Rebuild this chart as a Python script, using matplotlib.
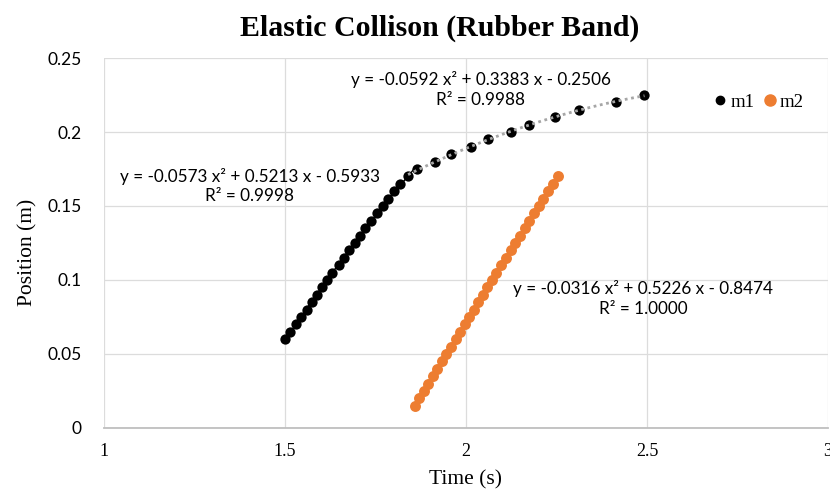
import numpy as np
import matplotlib
matplotlib.use("Agg")
import matplotlib.pyplot as plt
from matplotlib.lines import Line2D

# ---- data ----
m1_time = [1.500, 1.514, 1.530, 1.543, 1.560, 1.574, 1.588, 1.601, 1.617, 1.630,
           1.649, 1.662, 1.678, 1.692, 1.707, 1.722, 1.738, 1.753, 1.772, 1.785,
           1.801, 1.818, 1.840, 1.864, 1.914, 1.958, 2.014, 2.060, 2.124, 2.175,
           2.246, 2.313, 2.414, 2.493]
m1_pos = [0.060, 0.065, 0.070, 0.075, 0.080, 0.085, 0.090, 0.095, 0.100, 0.105,
          0.110, 0.115, 0.120, 0.125, 0.130, 0.135, 0.140, 0.145, 0.150, 0.155,
          0.160, 0.165, 0.170, 0.175, 0.180, 0.185, 0.190, 0.195, 0.200, 0.205,
          0.210, 0.215, 0.220, 0.225]
m2_time = [1.859, 1.871, 1.884, 1.896, 1.908, 1.921, 1.933, 1.946, 1.958, 1.971,
           1.983, 1.996, 2.008, 2.021, 2.034, 2.046, 2.059, 2.072, 2.084, 2.097,
           2.110, 2.123, 2.136, 2.149, 2.162, 2.175, 2.188, 2.201, 2.214, 2.227,
           2.241, 2.254]
m2_pos = [0.015, 0.020, 0.025, 0.030, 0.035, 0.040, 0.045, 0.050, 0.055, 0.060,
          0.065, 0.070, 0.075, 0.080, 0.085, 0.090, 0.095, 0.100, 0.105, 0.110,
          0.115, 0.120, 0.125, 0.130, 0.135, 0.140, 0.145, 0.150, 0.155, 0.160,
          0.165, 0.170]
split_index = 22  # m1 fitted in two pieces: before / after this point

eq_upper = "y = -0.0592 x\u00b2 + 0.3383 x - 0.2506\nR\u00b2 = 0.9988"
eq_lower = "y = -0.0573 x\u00b2 + 0.5213 x - 0.5933\nR\u00b2 = 0.9998"
eq_m2 = "y = -0.0316 x\u00b2 + 0.5226 x - 0.8474\nR\u00b2 = 1.0000"

title = "Elastic Collison (Rubber Band)"
xlabel = "Time (s)"
ylabel = "Position (m)"
x_ticks = [1, 1.5, 2, 2.5, 3]
y_ticks = [0, 0.05, 0.1, 0.15, 0.2, 0.25]
y_tick_labels = ["0", "0.05", "0.1", "0.15", "0.2", "0.25"]

serif = ["Liberation Serif", "DejaVu Serif"]
sans = ["Lato", "DejaVu Sans"]
orange = "#ED7D31"

fig = plt.figure(figsize=(8.3, 4.95), dpi=100)
ax = fig.add_axes([0.1253, 0.1354, 0.8723, 0.7474])

ax.set_xlim(1, 3)
ax.set_ylim(0, 0.25)
ax.set_xticks(x_ticks)
ax.set_xticklabels([f"{v:g}" for v in x_ticks], fontfamily=serif, fontsize=13)
ax.set_yticks(y_ticks)
ax.set_yticklabels(y_tick_labels, fontfamily=sans, fontsize=12.5)
ax.tick_params(length=0, pad=11, axis="x")
ax.tick_params(length=0, pad=16, axis="y")
ax.grid(True, color="#dcdcdc", linewidth=0.9)
ax.set_axisbelow(True)
for s in ["top", "right", "left"]:
    ax.spines[s].set_visible(False)
ax.spines["bottom"].set_color("#bfbfbf")
ax.spines["bottom"].set_linewidth(1.3)

# trendlines
t1 = np.array(m1_time)
p1 = np.array(m1_pos)
c_low = np.polyfit(t1[:split_index + 2], p1[:split_index + 2], 2)
c_up = np.polyfit(t1[split_index:], p1[split_index:], 2)
c_m2 = np.polyfit(m2_time, m2_pos, 2)
xs = np.linspace(t1[0], t1[split_index + 1], 100)
ax.plot(xs, np.polyval(c_low, xs), color="black", lw=1, zorder=2)
xs2 = np.linspace(t1[split_index], t1[-1], 100)
ax.plot(xs2, np.polyval(c_up, xs2), color="#a6a6a6", lw=2, ls=(0, (1, 1.3)), zorder=4)
xs3 = np.linspace(m2_time[0], m2_time[-1], 100)
ax.plot(xs3, np.polyval(c_m2, xs3), color=orange, lw=1, zorder=2)

ax.scatter(m1_time, m1_pos, s=55, color="black", zorder=3, linewidths=0)
ax.scatter(m2_time, m2_pos, s=62, color=orange, zorder=3, linewidths=0)

eq_kw = dict(fontfamily=sans, fontsize=12.3, ha="center", va="center",
             linespacing=1.3, color="black")
ax.text(2.041, 0.2287, eq_upper, transform=ax.transData, **eq_kw)
ax.text(1.403, 0.1635, eq_lower, transform=ax.transData, **eq_kw)
ax.text(2.489, 0.0872, eq_m2, transform=ax.transData, **eq_kw)

handles = [Line2D([], [], marker="o", ls="", color="black", markersize=6),
           Line2D([], [], marker="o", ls="", color=orange, markersize=8)]
ax.legend(handles, ["m1", "m2"], loc="upper right", bbox_to_anchor=(0.99, 0.95),
          ncol=2, frameon=False, handletextpad=0.05, columnspacing=0.3,
          prop={"family": serif, "size": 13.5}, handlelength=1.0)

fig.text(0.530, 0.942, title, ha="center", va="center", fontfamily=serif,
         fontsize=21.5, fontweight="bold")
fig.text(0.5614, 0.03, xlabel, ha="center", va="center", fontfamily=serif, fontsize=15.5)
fig.text(0.034, 0.49, ylabel, ha="center", va="center", rotation=90,
         fontfamily=serif, fontsize=15.5)

fig.savefig("out.png", dpi=100)
